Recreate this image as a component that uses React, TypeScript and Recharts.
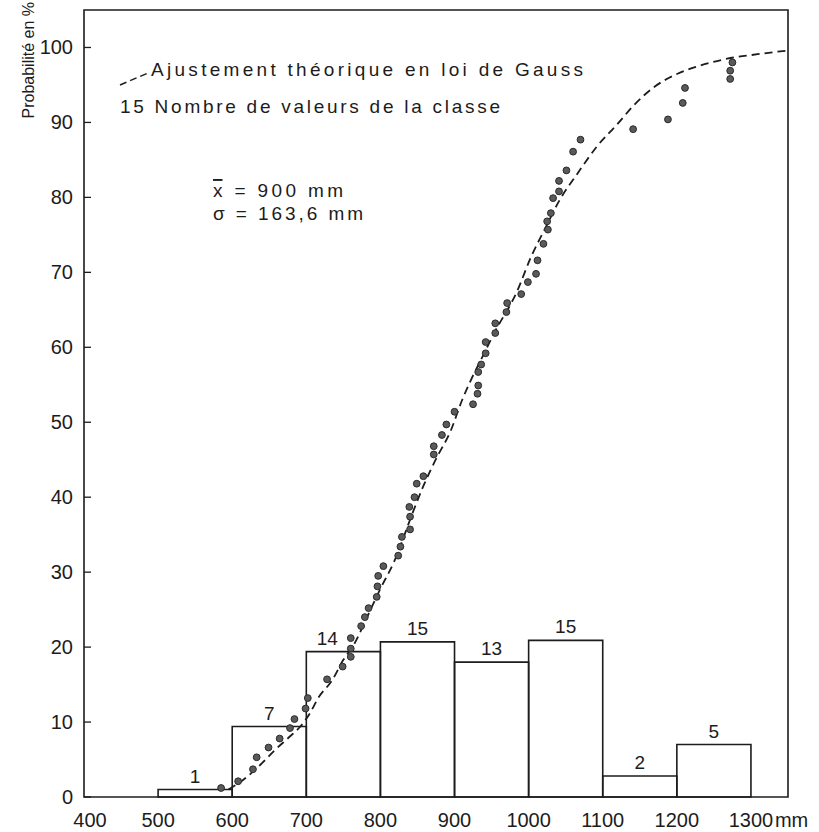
import React from 'react';
import {
  ComposedChart, XAxis, YAxis, Line, Scatter, ReferenceArea,
} from 'recharts';

// histogram classes (mm) and their share in %
const BIN_START = [500, 600, 700, 800, 900, 1000, 1100, 1200];
const BIN_END = [600, 700, 800, 900, 1000, 1100, 1200, 1300];
const BIN_PCT = [1.0, 9.4, 19.4, 20.7, 18.0, 20.9, 2.8, 7.0];
const BIN_COUNT = [1, 7, 14, 15, 13, 15, 2, 5];

// theoretical gaussian fit
const CURVE_MM = [595, 615, 638, 658, 677, 692, 705, 716, 735, 750, 764, 782, 800, 818, 845, 858, 874, 895, 910, 922, 940, 953, 985, 1003, 1023, 1041, 1066, 1093, 1120, 1142, 1169, 1201, 1232, 1268, 1309, 1350];
const CURVE_PCT = [1.0, 2.3, 4.3, 6.3, 8.0, 9.4, 11.2, 13.2, 15.6, 18.3, 20.3, 24.0, 27.8, 31.3, 38.3, 41.5, 44.9, 48.9, 52.9, 55.6, 59.2, 61.8, 67.6, 72.0, 76.0, 79.5, 83.2, 86.9, 89.8, 92.3, 94.7, 96.5, 97.6, 98.5, 99.1, 99.6];

// observed values (empirical frequencies)
const DOT_MM = [585, 608, 628, 633, 649, 664, 678, 684, 699, 702, 728, 749, 760, 760, 760, 774, 779, 784, 795, 796, 797, 804, 824, 827, 829, 840, 840, 839, 846, 849, 858, 872, 872, 883, 889, 900, 925, 931, 932, 932, 936, 942, 942, 955, 955, 970, 971, 990, 999, 1010, 1012, 1020, 1026, 1025, 1030, 1033, 1041, 1041, 1051, 1060, 1070, 1141, 1188, 1208, 1211, 1272, 1272, 1275];
const DOT_PCT = [1.2, 2.1, 3.7, 5.3, 6.6, 7.8, 9.2, 10.4, 11.8, 13.2, 15.7, 17.4, 18.7, 19.8, 21.2, 22.8, 24.0, 25.2, 26.7, 28.1, 29.5, 30.8, 32.2, 33.4, 34.7, 35.7, 37.4, 38.7, 40.0, 41.8, 42.8, 45.7, 46.8, 48.3, 49.7, 51.4, 52.4, 53.8, 54.9, 56.7, 57.7, 59.2, 60.7, 61.9, 63.2, 64.7, 65.9, 67.1, 68.7, 69.8, 71.6, 73.8, 75.7, 76.8, 77.9, 79.9, 80.8, 82.2, 83.6, 86.1, 87.7, 89.1, 90.4, 92.6, 94.6, 95.8, 96.9, 98.0];

const X_TICKS = [400, 500, 600, 700, 800, 900, 1000, 1100, 1200, 1300];
const Y_TICKS = [0, 10, 20, 30, 40, 50, 60, 70, 80, 90, 100];

const curve = CURVE_MM.map((x, i) => ({ x, y: CURVE_PCT[i] }));
const dots = DOT_MM.map((x, i) => ({ x, y: DOT_PCT[i] }));
const binLabels = BIN_START.map((s, i) => ({ x: (s + BIN_END[i]) / 2, y: BIN_PCT[i], n: BIN_COUNT[i], i }));

const INK = '#1c1c1c';
const FONT = '"Liberation Sans", Arial, sans-serif';

const YTick = ({ x, y, payload }: any) => (
  <g>
    <line x1={x} x2={x + 7} y1={y} y2={y} stroke={INK} strokeWidth={1.3} />
    <text x={x - 11} y={y + 7} textAnchor="end" fontSize={20} fontFamily={FONT} fill={INK}>{payload.value}</text>
  </g>
);

const XTick = ({ x, y, payload }: any) => {
  const v = payload.value;
  if (v === 1300) {
    return (
      <g>
        <text x={x} y={y + 30} textAnchor="middle" fontSize={20} fontFamily={FONT} fill={INK}>{v}</text>
        <text x={x + 24} y={y + 30} textAnchor="start" fontSize={20} fontFamily={FONT} fill={INK}>mm</text>
      </g>
    );
  }
  return (
    <text x={v === 400 ? x + 6 : x} y={y + 30} textAnchor="middle" fontSize={20} fontFamily={FONT} fill={INK}>{v}</text>
  );
};

const CountLabel = (p: any) => {
  // the "14" sits a bit left of its class centre in the original
  const nudge = p.payload.i === 2 ? -16 : 0;
  return (
    <text x={p.cx + nudge} y={p.cy - 7} textAnchor="middle" fontSize={19} fontFamily={FONT} fill={INK}>{p.payload.n}</text>
  );
};

const Dot = (p: any) => (
  <circle cx={p.cx} cy={p.cy} r={3.4} fill="#5a5a5a" stroke="#2a2a2a" strokeWidth={1} />
);

export default function App() {
  return (
    <div style={{ position: 'absolute', left: 0, top: 0, width: 819, height: 832, background: '#fff' }}>
      <ComposedChart width={819} height={832} margin={{ top: 10, right: 31, bottom: 0, left: 24 }}>
        <XAxis
          dataKey="x" type="number" domain={[400, 1350]} ticks={X_TICKS} allowDataOverflow
          axisLine={false} tickLine={false} tickSize={0} tickMargin={0} height={35} tick={<XTick />}
        />
        <YAxis
          dataKey="y" type="number" domain={[0, 105]} ticks={Y_TICKS} allowDataOverflow
          axisLine={false} tickLine={false} tickSize={0} tickMargin={0} width={60} tick={<YTick />}
        />
        <ReferenceArea x1={400} x2={1350} y1={0} y2={105} fill="none" stroke={INK} strokeWidth={1.6} />
        {BIN_START.map((s, i) => (
          <ReferenceArea key={s} x1={s} x2={BIN_END[i]} y1={0} y2={BIN_PCT[i]} fill="none" stroke={INK} strokeWidth={1.6} />
        ))}
        <Scatter data={binLabels} dataKey="y" shape={<CountLabel />} isAnimationActive={false} />
        <Line
          data={curve} dataKey="y" type="monotone" stroke={INK} strokeWidth={1.8}
          strokeDasharray="8 5" dot={false} activeDot={false} isAnimationActive={false}
        />
        <Scatter data={dots} dataKey="y" shape={<Dot />} isAnimationActive={false} />
      </ComposedChart>
      <svg width={819} height={832} style={{ position: 'absolute', left: 0, top: 0, pointerEvents: 'none' }}>
        <text transform="translate(34,2) rotate(-90)" textAnchor="end" fontSize={16} fontFamily={FONT} fill={INK}>
          Probabilité en %
        </text>
        <line x1={120} y1={85} x2={148} y2={73} stroke={INK} strokeWidth={1.5} strokeDasharray="7 4" />
        <text x={151} y={76} fontSize={19} fontFamily={FONT} fill={INK} textLength={432} lengthAdjust="spacing">
          Ajustement théorique en loi de Gauss
        </text>
        <text x={120} y={113} fontSize={19} fontFamily={FONT} fill={INK} textLength={380} lengthAdjust="spacing">
          15 Nombre de valeurs de la classe
        </text>
        <text x={213} y={197} fontSize={19} fontFamily={FONT} fill={INK} textLength={130} lengthAdjust="spacing">
          <tspan style={{ textDecoration: 'overline' }}>x</tspan> = 900 mm
        </text>
        <text x={213} y={220} fontSize={19} fontFamily={FONT} fill={INK} textLength={150} lengthAdjust="spacing">
          σ = 163,6 mm
        </text>
      </svg>
    </div>
  );
}
